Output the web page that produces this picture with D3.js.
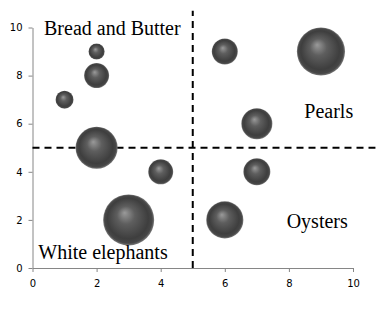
<!DOCTYPE html>
<html>
<head>
<meta charset="utf-8">
<style>
  body { margin: 0; background: #fff; }
  .tick text { font-family: "DejaVu Sans", Verdana, sans-serif; font-size: 10px; fill: #000; }
  .quad { font-family: "Liberation Serif", "Times New Roman", serif; font-size: 20px; fill: #000; }
</style>
</head>
<body>
<div class="container"></div>
<script src="https://d3js.org/d3.v7.min.js"></script>
<script>
  // bubble data
  var xs    = [2, 2, 1, 2, 4, 3, 6, 9, 7, 7, 6];
  var ys    = [9, 8, 7, 5, 4, 2, 9, 9, 6, 4, 2];
  var sizes = [1, 2.4, 1.25, 6.8, 2.4, 10, 2.6, 8.9, 3.7, 2.8, 5.3];
  var ticks = [0, 2, 4, 6, 8, 10];
  var quadrants = [
    { label: 'Bread and Butter', x: 0.36, y: 9.69 },
    { label: 'Pearls', x: 8.48, y: 6.22 },
    { label: 'White elephants', x: 0.18, y: 0.37 },
    { label: 'Oysters', x: 7.93, y: 1.68 }
  ];
  var divider = 5, lineEnd = 10.7;

  var width = 390, height = 313,
      plotLeft = 32.5, plotRight = 353, plotTop = 27.5, plotBottom = 268;

  var svg = d3.select('.container').append('svg')
      .attr('width', width)
      .attr('height', height);

  var x = d3.scaleLinear().domain([0, 10]).range([plotLeft, plotRight]);
  var y = d3.scaleLinear().domain([0, 10]).range([plotBottom, plotTop]);
  var r = d3.scaleSqrt().domain([0, 10]).range([0, 25.5]);

  var grad = svg.append('defs').append('radialGradient')
      .attr('id', 'ball')
      .attr('cx', '50%').attr('cy', '50%').attr('r', '50%')
      .attr('fx', '42%').attr('fy', '36%');
  grad.append('stop').attr('offset', '0%').attr('stop-color', '#9a9a9a');
  grad.append('stop').attr('offset', '35%').attr('stop-color', '#5e5e5e');
  grad.append('stop').attr('offset', '80%').attr('stop-color', '#3e3e3e');
  grad.append('stop').attr('offset', '93%').attr('stop-color', '#474747');
  grad.append('stop').attr('offset', '100%').attr('stop-color', '#7a7a7a');

  // axes
  svg.append('g')
      .attr('transform', 'translate(0,' + plotBottom + ')')
      .call(d3.axisBottom(x).tickValues(ticks).tickSize(4).tickSizeOuter(0).tickPadding(8));
  svg.append('g')
      .attr('transform', 'translate(' + plotLeft + ',0)')
      .call(d3.axisLeft(y).tickValues(ticks).tickSize(4).tickSizeOuter(0).tickPadding(6));
  svg.selectAll('.domain, .tick line').attr('stroke', '#868686');

  // dividers
  svg.append('line')
      .attr('x1', x(divider)).attr('x2', x(divider))
      .attr('y1', y(0)).attr('y2', y(lineEnd))
      .attr('stroke', '#000').attr('stroke-width', 2).attr('stroke-dasharray', '7,5');
  svg.append('line')
      .attr('x1', x(0)).attr('x2', x(lineEnd))
      .attr('y1', y(divider)).attr('y2', y(divider))
      .attr('stroke', '#000').attr('stroke-width', 2).attr('stroke-dasharray', '7,5');

  // bubbles
  svg.append('g').selectAll('circle')
      .data(d3.range(xs.length))
      .enter().append('circle')
      .attr('cx', function(i) { return x(xs[i]); })
      .attr('cy', function(i) { return y(ys[i]); })
      .attr('r', function(i) { return r(sizes[i]); })
      .attr('fill', 'url(#ball)');

  // quadrant labels
  svg.append('g').selectAll('text')
      .data(quadrants)
      .enter().append('text')
      .attr('class', 'quad')
      .attr('x', function(d) { return x(d.x); })
      .attr('y', function(d) { return y(d.y); })
      .text(function(d) { return d.label; });
</script>
</body>
</html>
